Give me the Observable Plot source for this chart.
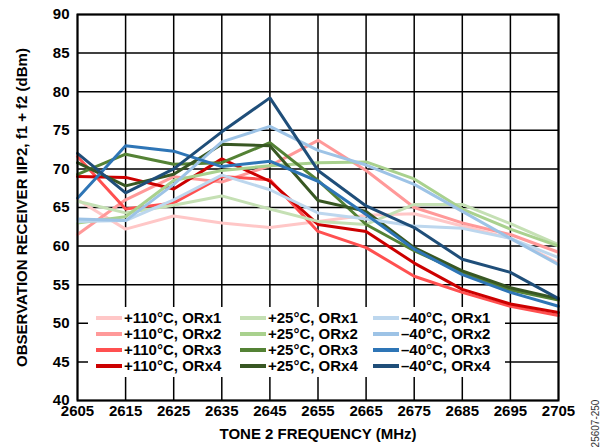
<!DOCTYPE html>
<html>
<head>
<meta charset="utf-8">
<script src="https://cdn.jsdelivr.net/npm/d3@7"></script>
<script src="https://cdn.jsdelivr.net/npm/@observablehq/plot@0.6"></script>
<style>
  html, body { margin: 0; padding: 0; background: white; }
</style>
</head>
<body>
<div id="chart"></div>
<script>
// ---- data ----
const freqs = [2605, 2615, 2625, 2635, 2645, 2655, 2665, 2675, 2685, 2695, 2705];
const xTicks = [2605, 2615, 2625, 2635, 2645, 2655, 2665, 2675, 2685, 2695, 2705];
const yTicks = [40, 45, 50, 55, 60, 65, 70, 75, 80, 85, 90];

const p110_orx1 = [66.0, 62.2, 63.9, 63.0, 62.4, 63.2, 64.0, 64.2, 62.6, 61.0, 57.8];
const p110_orx2 = [61.5, 66.0, 69.0, 68.3, 70.4, 73.7, 69.8, 65.0, 63.0, 61.5, 59.2];
const p110_orx3 = [71.6, 64.8, 65.6, 69.0, 68.6, 61.9, 59.8, 56.1, 54.0, 52.2, 51.0];
const p110_orx4 = [69.0, 68.9, 67.4, 71.3, 68.4, 62.8, 61.9, 57.8, 54.4, 52.5, 51.4];

const p25_orx1 = [65.8, 64.3, 65.3, 66.5, 64.8, 63.2, 62.8, 65.4, 65.4, 62.9, 60.2];
const p25_orx2 = [63.0, 63.8, 68.5, 69.8, 70.4, 70.8, 70.9, 68.7, 64.8, 62.2, 60.0];
const p25_orx3 = [69.3, 71.9, 70.6, 70.8, 73.4, 68.5, 62.8, 59.4, 56.6, 54.3, 53.0];
const p25_orx4 = [70.8, 67.8, 69.3, 73.2, 73.0, 65.9, 64.5, 59.8, 56.8, 54.6, 53.2];

const m40_orx1 = [63.2, 63.3, 66.0, 69.2, 67.3, 64.3, 63.5, 62.6, 62.3, 61.0, 58.5];
const m40_orx2 = [63.5, 63.3, 68.0, 73.5, 75.5, 72.4, 70.5, 68.0, 64.5, 61.0, 57.6];
const m40_orx3 = [66.2, 73.0, 72.3, 70.3, 71.0, 68.4, 64.1, 59.6, 56.3, 54.0, 52.2];
const m40_orx4 = [72.0, 66.9, 70.0, 74.8, 79.2, 69.8, 65.2, 62.4, 58.3, 56.6, 53.2];

const seriesNames = [
  "+110°C, ORx1", "+110°C, ORx2", "+110°C, ORx3", "+110°C, ORx4",
  "+25°C, ORx1", "+25°C, ORx2", "+25°C, ORx3", "+25°C, ORx4",
  "–40°C, ORx1", "–40°C, ORx2", "–40°C, ORx3", "–40°C, ORx4"
];
const seriesColors = [
  "#FFC7C7", "#FF9999", "#FF5050", "#CC0000",
  "#C5E0B4", "#A9D18E", "#548235", "#385723",
  "#BDD7EE", "#9DC3E6", "#2E75B6", "#1F4E79"
];
const seriesValues = [
  p110_orx1, p110_orx2, p110_orx3, p110_orx4,
  p25_orx1, p25_orx2, p25_orx3, p25_orx4,
  m40_orx1, m40_orx2, m40_orx3, m40_orx4
];

const xTitle = "TONE 2 FREQUENCY (MHz)";
const yTitle = "OBSERVATION RECEIVER IIP2, f1 + f2 (dBm)";
const figId = "25607-250";

// ---- table ----
const data = seriesNames.flatMap((name, i) =>
  seriesValues[i].map((v, j) => ({freq: freqs[j], value: v, series: name}))
);

const font = "'Liberation Sans', Arial, Helvetica, sans-serif";

const chart = Plot.plot({
  width: 614,
  height: 448,
  marginLeft: 77,
  marginRight: 56,
  marginTop: 14,
  marginBottom: 48,
  style: {fontFamily: font, fontSize: "15px", fontWeight: "bold", background: "white", color: "black"},
  x: {domain: [2605, 2705]},
  y: {domain: [40, 90]},
  color: {domain: seriesNames, range: seriesColors},
  marks: [
    Plot.gridX(xTicks, {stroke: "black", strokeOpacity: 1, strokeWidth: 1.5}),
    Plot.gridY(yTicks, {stroke: "black", strokeOpacity: 1, strokeWidth: 1.5}),
    Plot.line(data, {x: "freq", y: "value", z: "series", stroke: "series", strokeWidth: 3, strokeLinejoin: "miter"}),
    Plot.frame({stroke: "black", strokeWidth: 2}),
    Plot.axisX(xTicks, {tickSize: 0, tickPadding: 5, tickFormat: d => String(d), label: null, fontSize: 15, fontWeight: "bold"}),
    Plot.axisY(yTicks, {tickSize: 0, tickPadding: 8, tickFormat: d => String(d), label: null, fontSize: 15, fontWeight: "bold"}),
    Plot.text([xTitle], {frameAnchor: "bottom", dy: 38, textAnchor: "middle", fontSize: 15, fontWeight: "bold"}),
    Plot.text([yTitle], {frameAnchor: "left", dx: -55, rotate: -90, textAnchor: "middle", fontSize: 15, fontWeight: "bold"}),
    Plot.text([figId], {frameAnchor: "bottom-right", dx: 40, dy: 23, rotate: -90, textAnchor: "middle", fontSize: 10, fontWeight: "normal", fill: "#333"})
  ]
});

// ---- legend inside the plot ----
const svg = d3.select(chart);
const lg = svg.append("g")
  .attr("font-family", font).attr("font-size", 15).attr("font-weight", "bold")
  .attr("text-anchor", "start");
lg.append("rect").attr("x", 88).attr("y", 307).attr("width", 417).attr("height", 70)
  .attr("fill", "white").attr("stroke", "none");
const colX = [96, 240, 373];
const rowY = [318, 334, 350, 366];
seriesNames.forEach((name, i) => {
  const c = Math.floor(i / 4), r = i % 4;
  const x0 = colX[c], y0 = rowY[r];
  lg.append("line").attr("x1", x0).attr("x2", x0 + 26).attr("y1", y0).attr("y2", y0)
    .attr("stroke", seriesColors[i]).attr("stroke-width", 4);
  lg.append("text").attr("x", x0 + 28).attr("y", y0).attr("dy", "0.36em")
    .attr("text-anchor", "start").attr("fill", "black").text(name);
});

document.getElementById("chart").appendChild(chart);
</script>
</body>
</html>
